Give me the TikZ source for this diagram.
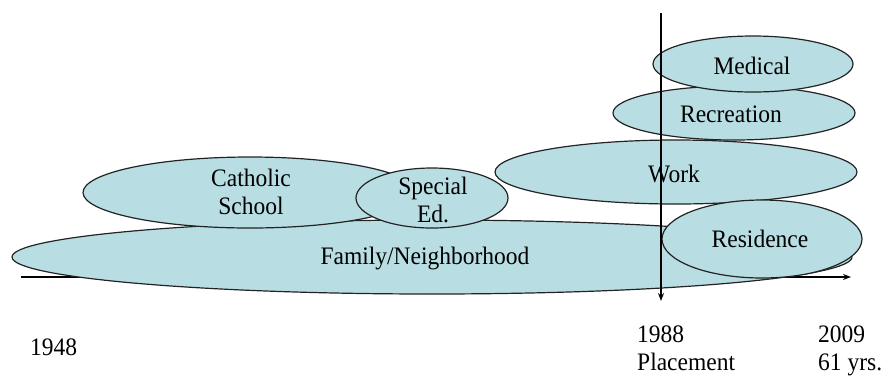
\documentclass[tikz,border=0pt]{standalone}
\usepackage{fontspec}
\setmainfont{Liberation Serif}
\usetikzlibrary{shapes.geometric,arrows.meta}
\definecolor{bubble}{RGB}{184,222,228}
\definecolor{rim}{RGB}{35,35,35}
% slightly tall lettering
\newcommand\tallline[1]{\scalebox{1}[1.07]{#1}}
\begin{document}
\begin{tikzpicture}[x=1pt,y=-1pt,
  bubble/.style={ellipse,draw=rim,fill=bubble,line width=1.2pt,inner sep=0pt,
    minimum width=#1},
  lbl/.style={font=\fontsize{23.5}{28}\selectfont,inner sep=0pt,text=black},
  axis/.style={line width=1.5pt,-{Stealth[length=8pt,width=6pt]}}]
\useasboundingbox (0,0) rectangle (890,376);

% time axis (behind the bubbles)
\coordinate (hstart) at (21,277);
\coordinate (hend) at (851,277);
\draw[axis] (hstart) -- (hend);

% life domains
\node[bubble=840pt,minimum height=74pt] (fam) at (432,257) {};
\node[bubble=334pt,minimum height=71pt] (cath) at (250,192.5) {};
\node[bubble=152pt,minimum height=60pt] (sped) at (432,198) {};
\node[bubble=362pt,minimum height=64pt] (work) at (676,172) {};
\node[bubble=242pt,minimum height=54pt] (rec) at (734,113) {};
\node[bubble=200pt,minimum height=56pt] (med) at (753,64) {};
\node[bubble=200pt,minimum height=78pt] (res) at (762,239) {};

% domain names
\node[lbl,anchor=base] (famt) at (425,264) {\tallline{Family/Neighborhood}};
\node[lbl,align=center] (catht) at (251,192.3) {\tallline{Catholic}\\\tallline{School}};
\node[lbl,align=center] (spedt) at (433,200.3) {\tallline{Special}\\\tallline{Ed.}};
\node[lbl,anchor=base] (workt) at (674,182) {\tallline{Work}};
\node[lbl,anchor=base] (rect) at (731,122) {\tallline{Recreation}};
\node[lbl,anchor=base] (medt) at (752,74) {\tallline{Medical}};
\node[lbl,anchor=base] (rest) at (760,247) {\tallline{Residence}};

% placement marker (in front)
\coordinate (vtop) at (661,13);
\coordinate (vbot) at (661,301);
\draw[axis] (vtop) -- (vbot);

% dates
\node[lbl,anchor=base west] (t0) at (30,355) {\tallline{1948}};
\node[lbl,anchor=base west] (t1a) at (637,342) {\tallline{1988}};
\node[lbl,anchor=base west] (t1b) at (637,370) {\tallline{Placement}};
\node[lbl,anchor=base west] (t2a) at (818,342) {\tallline{2009}};
\node[lbl,anchor=base west] (t2b) at (818,370) {\tallline{61 yrs.}};
\end{tikzpicture}
\end{document}
